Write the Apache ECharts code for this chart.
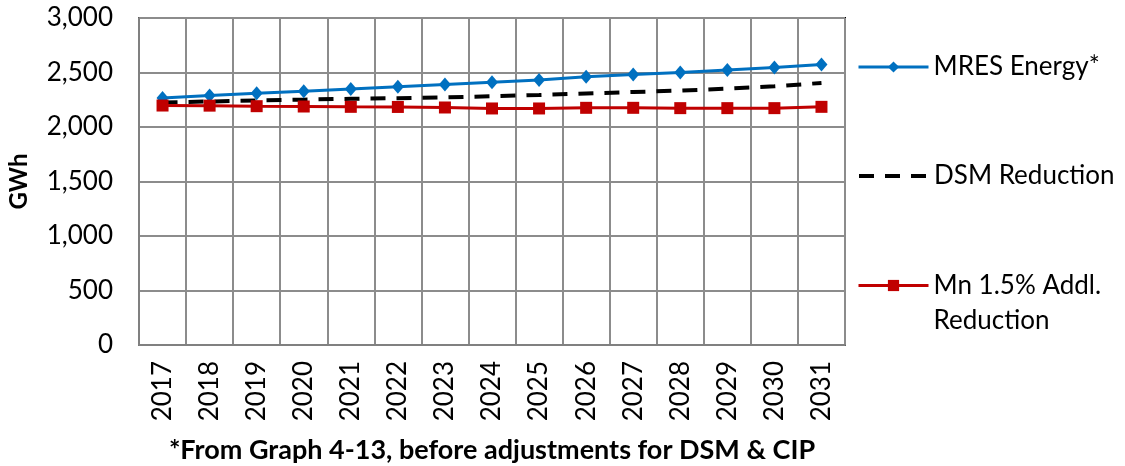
<!DOCTYPE html>
<html>
<head>
<meta charset="utf-8">
<style>
  html, body { margin: 0; padding: 0; background: #fff; }
  #chart { width: 1125px; height: 466px; }
</style>
<script src="https://cdn.jsdelivr.net/npm/echarts@6/dist/echarts.min.js"></script>
</head>
<body>
<div id="chart"></div>
<script>
const years = ['2017','2018','2019','2020','2021','2022','2023','2024','2025','2026','2027','2028','2029','2030','2031'];
const mresEnergy = [2265, 2290, 2310, 2328, 2348, 2370, 2390, 2410, 2432, 2460, 2482, 2500, 2522, 2545, 2573];
const dsmReduction = [2225, 2234, 2243, 2251, 2259, 2264, 2272, 2282, 2294, 2308, 2321, 2334, 2352, 2373, 2404];
const mnAddlReduction = [2197, 2196, 2191, 2188, 2185, 2184, 2179, 2170, 2170, 2176, 2176, 2173, 2173, 2173, 2185];
const yTicks = { min: 0, max: 3000, interval: 500 };
const seriesNames = ['MRES Energy*', 'DSM Reduction', 'Mn 1.5% Addl. Reduction'];

const FONT = 'Lato';
const chart = echarts.init(document.getElementById('chart'), null, { renderer: 'canvas' });

function addCommas(v) { return String(v).replace(/\B(?=(\d{3})+(?!\d))/g, ','); }

const legendBase = {
  orient: 'vertical',
  left: 857,
  padding: 0,
  itemWidth: 70,
  itemHeight: 14,
  itemGap: 0,
  selectedMode: false,
  textStyle: { fontFamily: FONT, fontSize: 26, color: '#000', lineHeight: 32 }
};

chart.setOption({
  animation: false,
  backgroundColor: '#fff',
  grid: {
    left: 139, right: 280, top: 18, bottom: 121,
    outerBoundsMode: 'none',
    containLabel: false,
    show: true, borderColor: '#000', borderWidth: 2, backgroundColor: 'transparent'
  },
  legend: [
    Object.assign({}, legendBase, { top: 51, data: [seriesNames[0]], lineStyle: { width: 3 } }),
    Object.assign({}, legendBase, {
      top: 160, data: [seriesNames[1]],
      lineStyle: { width: 4 },
      itemStyle: { color: 'rgba(0,0,0,0)', borderWidth: 0, opacity: 0 }
    }),
    Object.assign({}, legendBase, {
      top: 233,
      data: [seriesNames[2]],
      lineStyle: { width: 3 },
      formatter: function () { return '{a|Mn 1.5% Addl.}\n{a|Reduction}'; },
      textStyle: {
        fontFamily: FONT, fontSize: 26, color: '#000', lineHeight: 35, padding: [35, 0, 0, 0],
        rich: { a: { fontFamily: FONT, fontSize: 26, color: '#000', lineHeight: 35 } }
      }
    })
  ],
  xAxis: {
    type: 'category',
    data: years,
    boundaryGap: true,
    axisLine: { show: true, lineStyle: { color: '#808080', width: 2 } },
    axisTick: { show: false },
    axisLabel: { rotate: 90, margin: 16, fontFamily: FONT, fontSize: 26, color: '#000', interval: 0 },
    splitLine: { show: true, interval: 0, lineStyle: { color: '#8c8c8c', width: 2 } },
    name: '*From Graph 4-13, before adjustments for DSM & CIP',
    nameLocation: 'middle',
    nameGap: 92,
    nameTextStyle: { fontFamily: FONT, fontSize: 27, fontWeight: 'bold', color: '#000' }
  },
  yAxis: {
    type: 'value',
    min: yTicks.min, max: yTicks.max, interval: yTicks.interval,
    axisLine: { show: true, lineStyle: { color: '#808080', width: 2 } },
    axisTick: { show: false },
    axisLabel: { margin: 26, fontFamily: FONT, fontSize: 26, color: '#000', formatter: function (v) { return addCommas(v); } },
    splitLine: { show: true, lineStyle: { color: '#8c8c8c', width: 2 } },
    name: 'GWh',
    nameLocation: 'middle',
    nameGap: 108,
    nameTextStyle: { fontFamily: FONT, fontSize: 24, fontWeight: 'bold', color: '#000' }
  },
  series: [
    {
      name: seriesNames[0], type: 'line', data: mresEnergy,
      symbol: 'diamond', symbolSize: [12, 14],
      lineStyle: { color: '#0070C0', width: 3 },
      itemStyle: { color: '#0070C0' },
      z: 4
    },
    {
      name: seriesNames[1], type: 'line', data: dsmReduction,
      symbol: 'none', showSymbol: false,
      lineStyle: { color: '#000', width: 4, type: [15, 11] },
      itemStyle: { color: '#000' },
      z: 3
    },
    {
      name: seriesNames[2], type: 'line', data: mnAddlReduction,
      symbol: 'rect', symbolSize: 12,
      lineStyle: { color: '#C00000', width: 3 },
      itemStyle: { color: '#C00000' },
      z: 5
    }
  ]
});
</script>
</body>
</html>
